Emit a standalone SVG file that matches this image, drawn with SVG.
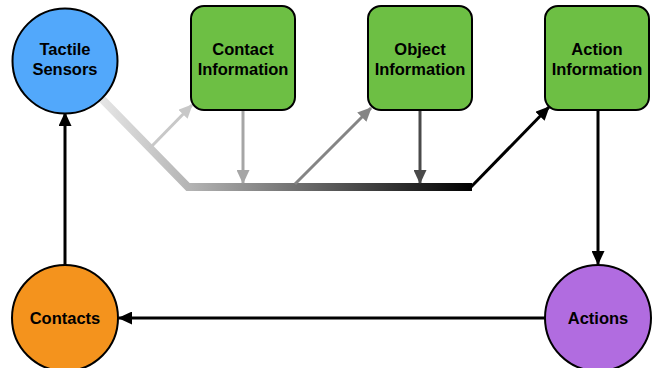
<svg xmlns="http://www.w3.org/2000/svg" width="652" height="368" viewBox="0 0 652 368">
<style>
.lbl{font-family:"Liberation Sans",Arial,Helvetica,sans-serif;font-weight:bold;font-size:16.5px;text-anchor:middle;fill:#000}
.nd{stroke:#000;stroke-width:2}
.c{fill:none;stroke-width:3}
</style>
<defs>
<linearGradient id="bus" gradientUnits="userSpaceOnUse" x1="100" y1="0" x2="472" y2="0">
<stop offset="0" stop-color="#e6e6e6"/>
<stop offset="0.24" stop-color="#b4b4b4"/>
<stop offset="1" stop-color="#000"/>
</linearGradient>
<marker id="aK" viewBox="0 0 14 13" refX="13" refY="6.5" markerWidth="14" markerHeight="13" markerUnits="userSpaceOnUse" orient="auto"><path d="M0,0L14,6.5L0,13z" fill="#000"/></marker>
<marker id="a1" viewBox="0 0 14 13" refX="13" refY="6.5" markerWidth="14" markerHeight="13" markerUnits="userSpaceOnUse" orient="auto"><path d="M0,0L14,6.5L0,13z" fill="#c8c8c8"/></marker>
<marker id="a2" viewBox="0 0 14 13" refX="13" refY="6.5" markerWidth="14" markerHeight="13" markerUnits="userSpaceOnUse" orient="auto"><path d="M0,0L14,6.5L0,13z" fill="#a6a6a6"/></marker>
<marker id="a3" viewBox="0 0 14 13" refX="13" refY="6.5" markerWidth="14" markerHeight="13" markerUnits="userSpaceOnUse" orient="auto"><path d="M0,0L14,6.5L0,13z" fill="#858585"/></marker>
<marker id="a4" viewBox="0 0 14 13" refX="13" refY="6.5" markerWidth="14" markerHeight="13" markerUnits="userSpaceOnUse" orient="auto"><path d="M0,0L14,6.5L0,13z" fill="#4a4a4a"/></marker>
</defs>
<g id="connectors">
<path d="M100,97 L188,187 L472,187" fill="none" stroke="url(#bus)" stroke-width="8" stroke-linejoin="miter"/>
<path class="c" d="M150,148 L192,105" stroke="#c8c8c8" marker-end="url(#a1)"/>
<path class="c" d="M243,111 L243,183" stroke="#a6a6a6" marker-end="url(#a2)"/>
<path class="c" d="M295,184 L371,108" stroke="#858585" marker-end="url(#a3)"/>
<path class="c" d="M420,111 L420,183" stroke="#4a4a4a" marker-end="url(#a4)"/>
<path class="c" d="M471,187 L549,107" stroke="#000" marker-end="url(#aK)"/>
<path class="c" d="M598,111 L598,264" stroke="#000" marker-end="url(#aK)"/>
<path class="c" d="M545,318 L119,318" stroke="#000" marker-end="url(#aK)"/>
<path class="c" d="M65,265 L65,113" stroke="#000" marker-end="url(#aK)"/>
</g>
<g id="tactile">
<circle class="nd" cx="65" cy="61" r="52.5" fill="#52a8fb"/>
<text class="lbl" x="65" y="54.5">Tactile</text>
<text class="lbl" x="65" y="75">Sensors</text>
</g>
<g id="contact-info">
<rect class="nd" x="191" y="6" width="104" height="104" rx="13" fill="#6dbf44"/>
<text class="lbl" x="243" y="54.5">Contact</text>
<text class="lbl" x="243" y="75">Information</text>
</g>
<g id="object-info">
<rect class="nd" x="368" y="6" width="104" height="104" rx="13" fill="#6dbf44"/>
<text class="lbl" x="420" y="54.5">Object</text>
<text class="lbl" x="420" y="75">Information</text>
</g>
<g id="action-info">
<rect class="nd" x="545" y="6" width="104" height="104" rx="13" fill="#6dbf44"/>
<text class="lbl" x="597" y="54.5">Action</text>
<text class="lbl" x="597" y="75">Information</text>
</g>
<g id="contacts">
<circle class="nd" cx="65" cy="318" r="53" fill="#f4931d"/>
<text class="lbl" x="65" y="324">Contacts</text>
</g>
<g id="actions">
<circle class="nd" cx="598" cy="318" r="53" fill="#b16ce0"/>
<text class="lbl" x="598" y="324">Actions</text>
</g>
</svg>
